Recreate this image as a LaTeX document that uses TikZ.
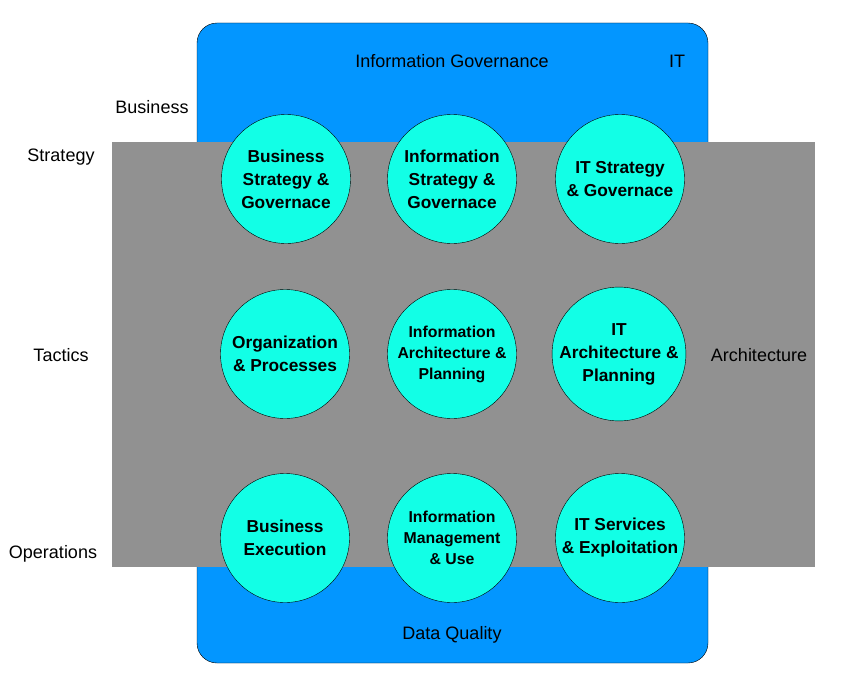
\documentclass[tikz,border=0pt]{standalone}
\usepackage{fontspec}
\setmainfont{Liberation Sans}
\usepackage{tikz}
\usetikzlibrary{positioning}
\usetikzlibrary{backgrounds}
\definecolor{govblue}{RGB}{3,150,255}
\definecolor{bandgray}{RGB}{145,145,145}
\definecolor{areacyan}{RGB}{18,255,230}

\begin{document}
\begin{tikzpicture}[x=1pt,y=-1pt,
  area/.style={circle,draw=black,fill=areacyan,minimum size=129pt,inner sep=0pt,
    align=center,font=\fontsize{17.3}{23}\selectfont\bfseries},
  smallarea/.style={area,font=\fontsize{15.8}{21}\selectfont\bfseries},
  lbl/.style={font=\fontsize{18}{20}\selectfont}]
\useasboundingbox (0,0) rectangle (845,685);
\draw [fill=govblue,rounded corners=20pt] (197,23) rectangle (708,663) ;
\fill [bandgray] (112,142) rectangle (815,567) ;
% areas
\node [area] (bizstrat) at (286,179) {Business\\Strategy \&\\Governace};
\node [area] (infostrat) at (452,179) {Information\\Strategy \&\\Governace};
\node [area] (itstrat) at (620,179) {IT Strategy\\\& Governace};
\node [area] (orgproc) at (285,354) {Organization\\\& Processes};
\node [smallarea] (infoarch) at (452,354) {Information\\Architecture \&\\Planning};
\node [area] (itarch) at (619,354) {IT\\Architecture \&\\Planning};
\node [area] (bizexec) at (285,538) {Business\\Execution};
\node [smallarea] (infomgmt) at (452,538) {Information\\Management\\\& Use};
\node [area] (itserv) at (620,538) {IT Services\\\& Exploitation};
% labels
\node [lbl] (gov) at (452,61) {Information Governance};
\node [lbl] (it) at (677,61) {IT};
\node [lbl] (biz) at (152,107) {Business};
\node [lbl] (strategy) at (61,157) {Strategy};
\node [lbl] (tactics) at (61,355) {Tactics};
\node [lbl] (arch) at (759,355) {Architecture};
\node [lbl] (ops) at (53,554) {Operations};
\node [lbl] (dq) at (452,635) {Data Quality};
\end{tikzpicture}
\end{document}
